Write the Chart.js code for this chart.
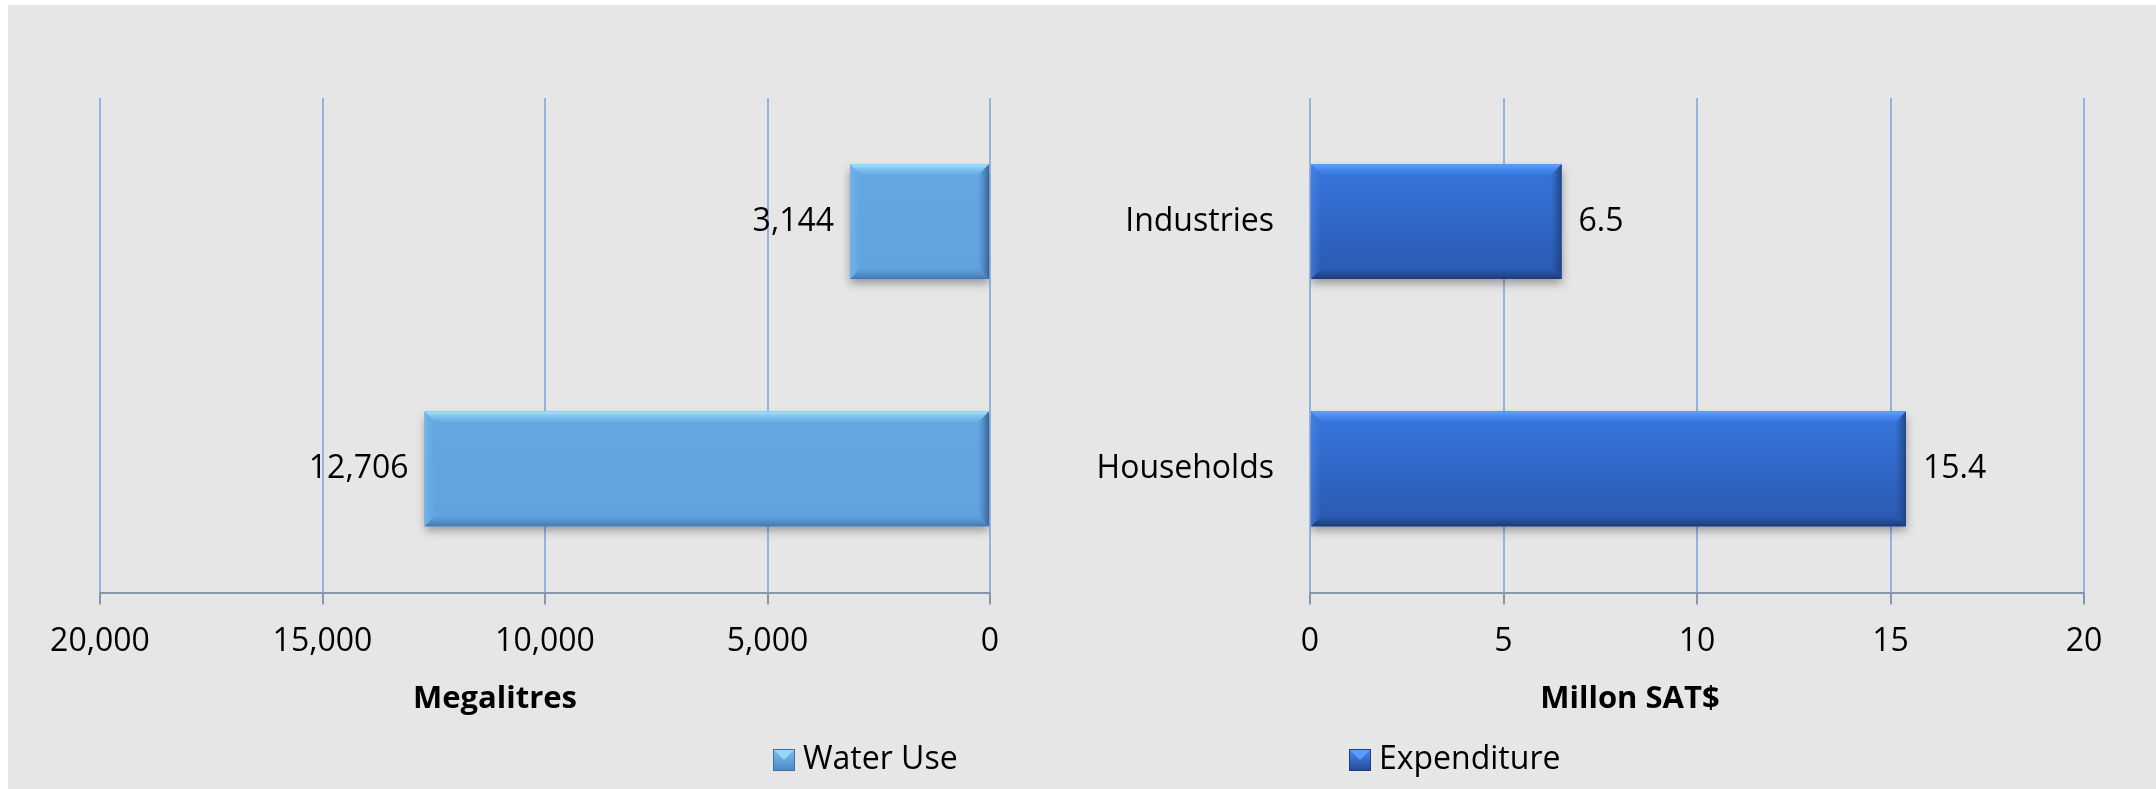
<!DOCTYPE html>
<html>
<head>
<meta charset="utf-8">
<script src="https://cdn.jsdelivr.net/npm/chart.js@4.4.1/dist/chart.umd.min.js"></script>
<style>
  html, body { margin: 0; padding: 0; background: #fff; }
  #wrap { position: relative; width: 2156px; height: 789px; overflow: hidden; }
  #bg { position: absolute; left: 8px; top: 5px; right: 0; bottom: 0; background: #e6e6e6; }
  .box { position: absolute; top: 0; width: 1078px; height: 789px; }
  #left { left: 0; }
  #right { left: 1078px; }
</style>
</head>
<body>
<div id="wrap">
  <div id="bg"></div>
  <div class="box" id="left"><canvas id="waterChart"></canvas></div>
  <div class="box" id="right"><canvas id="spendChart"></canvas></div>
</div>
<script>
// data
var categories = ["Industries", "Households"];
var waterUse = [3144, 12706];
var expenditure = [6.5, 15.4];
var waterTicks = [0, 5000, 10000, 15000, 20000];
var spendTicks = [0, 5, 10, 15, 20];

var FONT = "'Open Sans', sans-serif";
var GRID = '#93b3e3';
var AXIS = '#8896ab';

function quad(ctx, pts, fill) {
  ctx.beginPath();
  ctx.moveTo(pts[0][0], pts[0][1]);
  for (var i = 1; i < pts.length; i++) ctx.lineTo(pts[i][0], pts[i][1]);
  ctx.closePath();
  ctx.fillStyle = fill;
  ctx.fill();
}

function grad(ctx, x0, y0, x1, y1, c0, c1) {
  var g = ctx.createLinearGradient(x0, y0, x1, y1);
  g.addColorStop(0, c0);
  g.addColorStop(1, c1);
  return g;
}

// excel-like bevel + drop shadow on the bars
var bevelPlugin = {
  id: 'bevel',
  beforeDatasetsDraw: function(chart) {
    var ctx = chart.ctx;
    ctx.save();
    ctx.shadowColor = 'rgba(0,0,0,0.35)';
    ctx.shadowBlur = 9;
    ctx.shadowOffsetX = 0;
    ctx.shadowOffsetY = 5;
  },
  afterDatasetsDraw: function(chart, args, opts) {
    var ctx = chart.ctx;
    ctx.restore();
    var d = opts.depth;
    chart.getDatasetMeta(0).data.forEach(function(bar) {
      var l = Math.min(bar.x, bar.base), r = Math.max(bar.x, bar.base);
      var t = bar.y - bar.height / 2, b = bar.y + bar.height / 2;
      ctx.save();
      quad(ctx, [[l, t], [r, t], [r, b], [l, b]], grad(ctx, 0, t, 0, b, opts.body[0], opts.body[1]));
      quad(ctx, [[l, t], [r, t], [r - d, t + d], [l + d, t + d]], grad(ctx, 0, t, 0, t + d, opts.top[0], opts.top[1]));
      quad(ctx, [[l, b], [r, b], [r - d, b - d], [l + d, b - d]], grad(ctx, 0, b, 0, b - d, opts.bottom[0], opts.bottom[1]));
      quad(ctx, [[l, t], [l + d, t + d], [l + d, b - d], [l, b]], grad(ctx, l, 0, l + d, 0, opts.left[0], opts.left[1]));
      quad(ctx, [[r, t], [r - d, t + d], [r - d, b - d], [r, b]], grad(ctx, r, 0, r - d, 0, opts.right[0], opts.right[1]));
      ctx.restore();
    });
  }
};

// value labels at the end of each bar
var valueLabels = {
  id: 'valueLabels',
  afterDatasetsDraw: function(chart, args, opts) {
    var ctx = chart.ctx;
    var values = chart.data.datasets[0].data;
    ctx.save();
    ctx.font = '32px ' + FONT;
    ctx.fillStyle = '#000';
    ctx.textBaseline = 'middle';
    chart.getDatasetMeta(0).data.forEach(function(bar, i) {
      var dir = bar.x < bar.base ? -1 : 1;
      ctx.textAlign = dir < 0 ? 'right' : 'left';
      ctx.fillText(opts.format(values[i]), bar.x + dir * opts.gap, bar.y);
    });
    ctx.restore();
  }
};

// axis title and legend, placed like the excel original
var sideText = {
  id: 'sideText',
  afterDraw: function(chart, args, opts) {
    var ctx = chart.ctx;
    ctx.save();
    ctx.fillStyle = '#000';
    ctx.textBaseline = 'middle';
    ctx.textAlign = 'center';
    ctx.font = 'bold 31px ' + FONT;
    ctx.fillText(opts.title, opts.titleX, opts.titleY);

    var s = 22, x = opts.legendX, y = opts.legendY - s / 2;
    quad(ctx, [[x, y], [x + s, y], [x + s, y + s], [x, y + s]], grad(ctx, 0, y, 0, y + s, opts.marker[0], opts.marker[1]));
    quad(ctx, [[x, y], [x + s, y], [x + s / 2, y + s / 2]], opts.marker[2]);
    ctx.strokeStyle = opts.marker[3];
    ctx.lineWidth = 1;
    ctx.strokeRect(x + 0.5, y + 0.5, s - 1, s - 1);

    ctx.fillStyle = '#000';
    ctx.font = '32px ' + FONT;
    ctx.textAlign = 'left';
    ctx.fillText(chart.data.datasets[0].label, x + s + 8, opts.legendY);
    ctx.restore();
  }
};

function xScale(tickList, reverse, fmt) {
  return {
    type: 'linear',
    reverse: reverse,
    min: tickList[0],
    max: tickList[tickList.length - 1],
    afterBuildTicks: function(scale) {
      scale.ticks = tickList.map(function(v) { return { value: v }; });
    },
    grid: { color: GRID, lineWidth: 2, tickColor: AXIS, tickLength: 12 },
    border: { color: AXIS, width: 2 },
    ticks: {
      color: '#000',
      padding: 18,
      maxRotation: 0,
      font: { family: FONT, size: 32 },
      callback: function(v) { return fmt(v); }
    }
  };
}

var commas = function(v) { return v.toLocaleString('en-US'); };

Chart.defaults.font.family = FONT;

new Chart(document.getElementById('waterChart'), {
  type: 'bar',
  data: {
    labels: categories,
    datasets: [{
      label: 'Water Use',
      data: waterUse,
      backgroundColor: '#62a5e1',
      borderWidth: 0,
      categoryPercentage: 1,
      barPercentage: 0.464
    }]
  },
  options: {
    indexAxis: 'y',
    responsive: true,
    maintainAspectRatio: false,
    animation: false,
    layout: { padding: { left: 100, right: 88, top: 98, bottom: 110 } },
    scales: {
      x: xScale(waterTicks, true, commas),
      y: { display: false }
    },
    plugins: {
      legend: { display: false },
      tooltip: { enabled: false },
      bevel: {
        depth: 11,
        body: ['#63a7e3', '#60a2de'],
        top: ['rgba(165,228,253,1)', 'rgba(120,195,240,0.15)'],
        bottom: ['rgba(62,110,165,0.85)', 'rgba(80,135,195,0)'],
        left: ['rgba(125,192,240,0.6)', 'rgba(110,180,235,0)'],
        right: ['rgba(50,92,140,0.9)', 'rgba(70,120,180,0)']
      },
      valueLabels: { gap: 16, format: commas },
      sideText: {
        title: 'Megalitres', titleX: 495, titleY: 699,
        legendX: 773, legendY: 760,
        marker: ['#7cc4f2', '#4c86c4', 'rgba(150,220,252,0.9)', '#3d6fa6']
      }
    }
  },
  plugins: [bevelPlugin, valueLabels, sideText]
});

new Chart(document.getElementById('spendChart'), {
  type: 'bar',
  data: {
    labels: categories,
    datasets: [{
      label: 'Expenditure',
      data: expenditure,
      backgroundColor: '#3068cc',
      borderWidth: 0,
      categoryPercentage: 1,
      barPercentage: 0.464
    }]
  },
  options: {
    indexAxis: 'y',
    responsive: true,
    maintainAspectRatio: false,
    animation: false,
    layout: { padding: { left: 0, right: 72, top: 98, bottom: 110 } },
    scales: {
      x: xScale(spendTicks, false, function(v) { return String(v); }),
      y: {
        grid: { display: false, drawTicks: false },
        border: { display: false },
        afterFit: function(scale) { scale.width = 232; },
        ticks: { color: '#000', padding: 36, font: { family: FONT, size: 32 } }
      }
    },
    plugins: {
      legend: { display: false },
      tooltip: { enabled: false },
      bevel: {
        depth: 11,
        body: ['#3677de', '#2a58b1'],
        top: ['rgba(95,165,255,1)', 'rgba(70,135,240,0.1)'],
        bottom: ['rgba(26,56,112,0.95)', 'rgba(35,70,140,0)'],
        left: ['rgba(80,140,235,0.5)', 'rgba(70,130,230,0)'],
        right: ['rgba(28,62,125,0.9)', 'rgba(40,80,150,0)']
      },
      valueLabels: { gap: 17, format: function(v) { return v.toFixed(1); } },
      sideText: {
        title: 'Millon SAT$', titleX: 552, titleY: 699,
        legendX: 271, legendY: 760,
        marker: ['#4a8cf0', '#23499a', 'rgba(90,160,255,0.9)', '#1f3f80']
      }
    }
  },
  plugins: [bevelPlugin, valueLabels, sideText]
});
</script>
</body>
</html>
